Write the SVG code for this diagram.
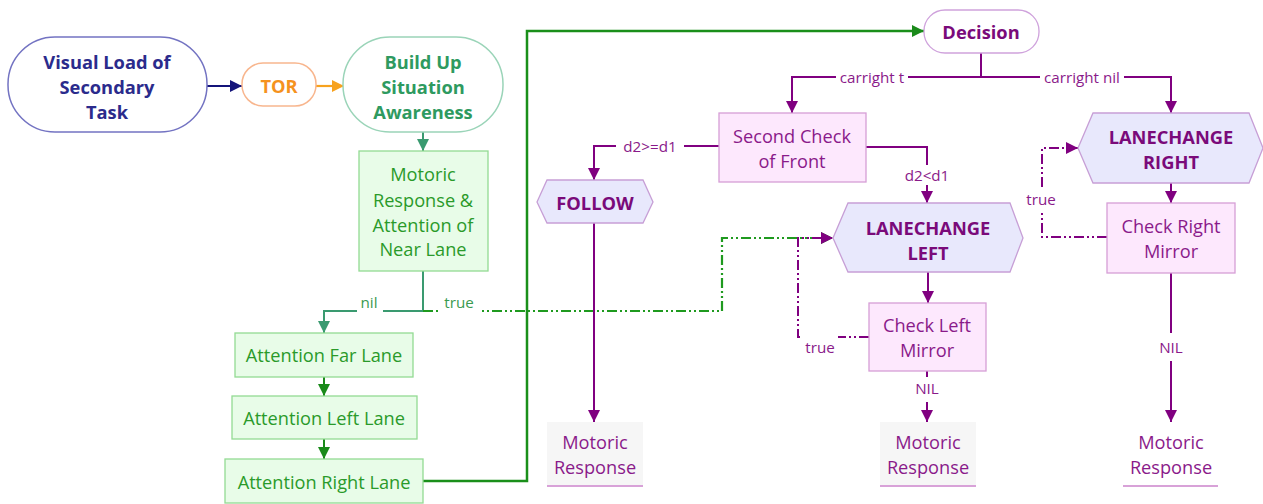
<svg xmlns="http://www.w3.org/2000/svg" width="1263" height="504" viewBox="0 0 1263 504">
<defs>
<style>
text{font-family:"Open Sans","Noto Sans",sans-serif;text-anchor:middle;dominant-baseline:central}
.b{font-weight:bold;font-size:18.3px}
.n{font-size:18.2px}
.lbl{font-size:15.2px}
.lbg{fill:#fff}
.gbox{fill:#e8fce8;stroke:#93da93;stroke-width:1.3}
.gt{fill:#2a9a2a}
.pbox{fill:#fde8fd;stroke:#d69ed6;stroke-width:1.3}
.hex{fill:#e8e8fc;stroke:#c79fd6;stroke-width:1.3}
.pt{fill:#8a1a8a}
.pb{fill:#7a0a7a}
.mr{fill:#f6f6f6}
.mrl{stroke:#d8a2d8;stroke-width:2}
.pl{fill:none;stroke:#800080;stroke-width:2}
.dd{stroke-dasharray:10 3 2 3 2 3}
</style>
<marker id="aN" viewBox="0 0 10 10" refX="10" refY="5" markerWidth="12" markerHeight="12" markerUnits="userSpaceOnUse" orient="auto"><path d="M0,0L10,5L0,10z" fill="#14147a"/></marker>
<marker id="aO" viewBox="0 0 10 10" refX="10" refY="5" markerWidth="12" markerHeight="12" markerUnits="userSpaceOnUse" orient="auto"><path d="M0,0L10,5L0,10z" fill="#f7a21e"/></marker>
<marker id="aT" viewBox="0 0 10 10" refX="10" refY="5" markerWidth="12" markerHeight="12" markerUnits="userSpaceOnUse" orient="auto"><path d="M0,0L10,5L0,10z" fill="#3a9a70"/></marker>
<marker id="aG" viewBox="0 0 10 10" refX="10" refY="5" markerWidth="12" markerHeight="12" markerUnits="userSpaceOnUse" orient="auto"><path d="M0,0L10,5L0,10z" fill="#1a8a1a"/></marker>
<marker id="aP" viewBox="0 0 10 10" refX="10" refY="5" markerWidth="12" markerHeight="12" markerUnits="userSpaceOnUse" orient="auto"><path d="M0,0L10,5L0,10z" fill="#800080"/></marker>
</defs>
<rect width="1263" height="504" fill="#fff"/>

<g id="connectors">
<path d="M207,86H242" fill="none" stroke="#14147a" stroke-width="2.2" marker-end="url(#aN)"/>
<path d="M316,86H344" fill="none" stroke="#f7a21e" stroke-width="2.2" marker-end="url(#aO)"/>
<path d="M423,132V151" fill="none" stroke="#3a9a70" stroke-width="2" marker-end="url(#aT)"/>
<path d="M423,271V311H324V333" fill="none" stroke="#3a9a70" stroke-width="2" marker-end="url(#aT)"/>
<path d="M423,311H722V238H833" fill="none" stroke="#1f9a1f" stroke-width="2.2" class="dd" marker-end="url(#aG)"/>
<path d="M324,377V396" fill="none" stroke="#1a8a1a" stroke-width="2" marker-end="url(#aG)"/>
<path d="M324,439V459" fill="none" stroke="#1a8a1a" stroke-width="2" marker-end="url(#aG)"/>
<path d="M423,481H527V31H924" fill="none" stroke="#1a8f1a" stroke-width="2.5" marker-end="url(#aG)"/>
<rect class="lbg" x="357" y="294" width="26" height="20"/>
<text x="369" y="302" class="lbl" fill="#3a9a50">nil</text>
<rect class="lbg" x="439" y="294" width="40" height="20"/>
<text x="459" y="302" class="lbl" fill="#3a9a50">true</text>

<path class="pl" d="M981,53V77H792V113" marker-end="url(#aP)"/>
<path class="pl" d="M981,77H1171V113" marker-end="url(#aP)"/>
<rect class="lbg" x="836" y="68" width="72" height="18"/>
<text x="872" y="77" class="lbl pt">carright t</text>
<rect class="lbg" x="1040" y="68" width="84" height="18"/>
<text x="1082" y="77" class="lbl pt">carright nil</text>
<path class="pl" d="M719,146H594V180" marker-end="url(#aP)"/>
<rect class="lbg" x="616" y="137" width="68" height="18"/>
<text x="650" y="146" class="lbl pt">d2&gt;=d1</text>
<path class="pl" d="M866,147H927V203" marker-end="url(#aP)"/>
<rect class="lbg" x="901" y="165" width="52" height="20"/>
<text x="927" y="175" class="lbl pt">d2&lt;d1</text>
<path class="pl" d="M594,223V422" marker-end="url(#aP)"/>
<path class="pl" d="M928,272V303" marker-end="url(#aP)"/>
<path class="pl" d="M927,371V422" marker-end="url(#aP)"/>
<rect class="lbg" x="910" y="377" width="34" height="25"/>
<text x="927" y="388" class="lbl pt">NIL</text>
<path class="pl" d="M1171,183V203" marker-end="url(#aP)"/>
<path class="pl" d="M1171,273V422" marker-end="url(#aP)"/>
<rect class="lbg" x="1154" y="333" width="34" height="28"/>
<text x="1171" y="347" class="lbl pt">NIL</text>
<path class="pl dd" d="M869,337H798V238H833" marker-end="url(#aP)"/>
<rect class="lbg" x="802" y="332" width="36" height="24"/>
<text x="820" y="347" class="lbl pt">true</text>
<path class="pl dd" d="M1107,237H1042V148H1078" marker-end="url(#aP)"/>
<rect class="lbg" x="1024" y="188" width="36" height="24"/>
<text x="1041" y="199" class="lbl pt">true</text>
</g>

<g id="visual-load">
<rect x="8" y="37" width="199" height="95" rx="47" fill="#fff" stroke="#7373c2" stroke-width="1.5"/>
<text class="b" fill="#2b2b8c"><tspan x="107" y="61">Visual Load of</tspan><tspan x="107" y="86">Secondary</tspan><tspan x="107" y="111">Task</tspan></text>
</g>
<g id="tor">
<rect x="242" y="63" width="74" height="43" rx="21" fill="#fff" stroke="#f8b68e" stroke-width="1.5"/>
<text x="279" y="85" class="b" fill="#f5921e">TOR</text>
</g>
<g id="build-up">
<rect x="343" y="37" width="160" height="95" rx="47" fill="#fff" stroke="#9ad4b8" stroke-width="1.5"/>
<text class="b" fill="#2e9a60"><tspan x="423" y="61">Build Up</tspan><tspan x="423" y="86">Situation</tspan><tspan x="423" y="111">Awareness</tspan></text>
</g>
<g id="motoric-near">
<rect class="gbox" x="359" y="151" width="129" height="120"/>
<text class="n gt"><tspan x="423" y="174">Motoric</tspan><tspan x="423" y="200">Response &amp;</tspan><tspan x="423" y="225">Attention of</tspan><tspan x="423" y="249">Near Lane</tspan></text>
</g>
<g id="att-far">
<rect class="gbox" x="235" y="333" width="178" height="44"/>
<text x="324" y="355" class="n gt">Attention Far Lane</text>
</g>
<g id="att-left">
<rect class="gbox" x="232" y="396" width="185" height="43"/>
<text x="324" y="418" class="n gt">Attention Left Lane</text>
</g>
<g id="att-right">
<rect class="gbox" x="225" y="459" width="198" height="44"/>
<text x="324" y="482" class="n gt">Attention Right Lane</text>
</g>
<g id="decision">
<rect x="924" y="10" width="115" height="43" rx="21" fill="#fff" stroke="#cfa2dc" stroke-width="1.3"/>
<text x="981" y="31" class="b pb">Decision</text>
</g>
<g id="second-check">
<rect class="pbox" x="719" y="113" width="147" height="69"/>
<text class="n pt"><tspan x="792" y="136">Second Check</tspan><tspan x="792" y="161">of Front</tspan></text>
</g>
<g id="follow">
<polygon class="hex" points="537,202 547,180 643,180 653,202 643,223 547,223"/>
<text x="595" y="202" class="b pb">FOLLOW</text>
</g>
<g id="lanechange-left">
<polygon class="hex" points="833,238 848,203 1010,203 1023,238 1010,272 848,272"/>
<text class="b pb"><tspan x="928" y="227">LANECHANGE</tspan><tspan x="928" y="252">LEFT</tspan></text>
</g>
<g id="check-left">
<rect class="pbox" x="869" y="303" width="117" height="68"/>
<text class="n pt"><tspan x="927" y="325">Check Left</tspan><tspan x="927" y="350">Mirror</tspan></text>
</g>
<g id="lanechange-right">
<polygon class="hex" points="1078,148 1093,113 1249,113 1263,148 1249,183 1093,183"/>
<text class="b pb"><tspan x="1171" y="136">LANECHANGE</tspan><tspan x="1171" y="161">RIGHT</tspan></text>
</g>
<g id="check-right">
<rect class="pbox" x="1107" y="203" width="128" height="70"/>
<text class="n pt"><tspan x="1171" y="226">Check Right</tspan><tspan x="1171" y="251">Mirror</tspan></text>
</g>
<g id="motoric-1">
<rect class="mr" x="547" y="422" width="96" height="64"/>
<line class="mrl" x1="547" y1="486" x2="643" y2="486"/>
<text class="n pt"><tspan x="595" y="442">Motoric</tspan><tspan x="595" y="467">Response</tspan></text>
</g>
<g id="motoric-2">
<rect class="mr" x="880" y="422" width="96" height="64"/>
<line class="mrl" x1="880" y1="486" x2="976" y2="486"/>
<text class="n pt"><tspan x="928" y="442">Motoric</tspan><tspan x="928" y="467">Response</tspan></text>
</g>
<g id="motoric-3">
<line class="mrl" x1="1123" y1="486" x2="1218" y2="486"/>
<text class="n pt"><tspan x="1171" y="442">Motoric</tspan><tspan x="1171" y="467">Response</tspan></text>
</g>
</svg>
